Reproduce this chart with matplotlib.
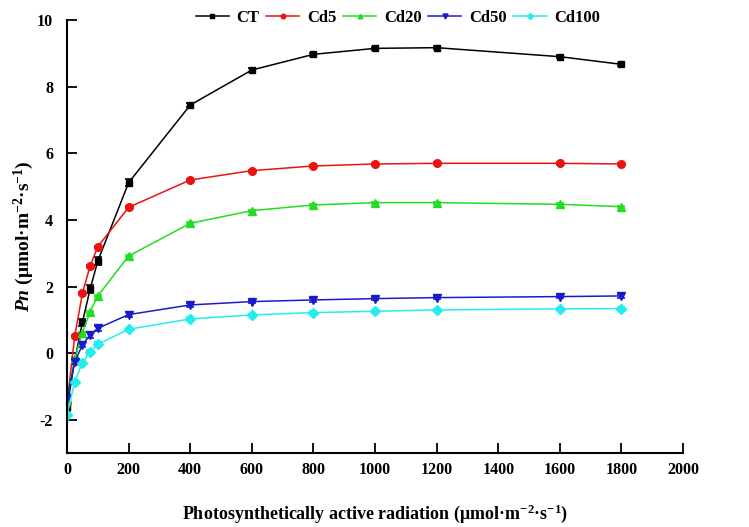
import matplotlib.pyplot as plt

plt.rcParams['font.family'] = 'Liberation Serif'
plt.rcParams['font.weight'] = 'bold'
plt.rcParams['axes.unicode_minus'] = False
plt.rcParams['mathtext.fontset'] = 'custom'
plt.rcParams['mathtext.rm'] = 'Liberation Serif:bold'
plt.rcParams['mathtext.it'] = 'Liberation Serif:italic:bold'
plt.rcParams['mathtext.bf'] = 'Liberation Serif:bold'

par = [0, 25, 50, 75, 100, 200, 400, 600, 800, 1000, 1200, 1600, 1800]

ct = [-1.62, -0.22, 0.93, 1.93, 2.77, 5.12, 7.45, 8.5, 8.97, 9.15, 9.17, 8.9, 8.67]
cd5 = [-1.5, 0.52, 1.8, 2.62, 3.2, 4.38, 5.2, 5.48, 5.62, 5.68, 5.7, 5.7, 5.68]
cd20 = [-1.4, -0.15, 0.62, 1.25, 1.72, 2.92, 3.9, 4.28, 4.45, 4.52, 4.52, 4.47, 4.4]
cd50 = [-1.35, -0.25, 0.25, 0.55, 0.75, 1.16, 1.45, 1.55, 1.6, 1.64, 1.67, 1.7, 1.72]
cd100 = [-1.85, -0.85, -0.28, 0.03, 0.27, 0.72, 1.03, 1.15, 1.22, 1.26, 1.3, 1.33, 1.34]

ct_err = [0.1, 0.08, 0.1, 0.12, 0.12, 0.1, 0.07, 0.06, 0.05, 0.05, 0.05, 0.05, 0.05]
cd5_err = [0.05, 0.03, 0.03, 0.03, 0.03, 0.03, 0.03, 0.03, 0.03, 0.03, 0.03, 0.03, 0.03]
cd20_err = [0.05, 0.03, 0.03, 0.03, 0.03, 0.03, 0.03, 0.03, 0.03, 0.03, 0.03, 0.03, 0.03]
cd50_err = [0.08, 0.06, 0.07, 0.08, 0.07, 0.07, 0.06, 0.05, 0.05, 0.05, 0.05, 0.05, 0.05]
cd100_err = [0.08, 0.06, 0.07, 0.07, 0.06, 0.05, 0.05, 0.04, 0.04, 0.04, 0.04, 0.04, 0.04]

names = ['CT', 'Cd5', 'Cd20', 'Cd50', 'Cd100']
series = [ct, cd5, cd20, cd50, cd100]
errs = [ct_err, cd5_err, cd20_err, cd50_err, cd100_err]
colors = ['black', '#ee1111', '#22dd22', '#1a1acc', '#22eeee']
markers = ['s', 'o', '^', 'v', 'D']
msizes = [5, 5.5, 5.5, 6, 5]

fig = plt.figure(figsize=(7.49, 5.27), dpi=100)
ax = fig.add_axes([0.0895, 0.140, 0.8225, 0.822])

for name, y, e, c, m, ms in zip(names, series, errs, colors, markers, msizes):
    ax.errorbar(par, y, yerr=e, color=c, marker=m, markersize=ms, lw=1.1,
                capsize=3, elinewidth=1.2, capthick=1.2, label=name)

ax.set_xlim(0, 2000)
ax.set_ylim(-3, 10)
ax.set_xticks(range(0, 2001, 200))
ax.set_yticks(range(-2, 11, 2))
ax.spines['top'].set_visible(False)
ax.spines['right'].set_visible(False)
ax.spines['left'].set_linewidth(1.5)
ax.spines['bottom'].set_linewidth(1.5)
ax.tick_params(axis='x', direction='in', length=7, width=1.3, labelsize=11.5, pad=6)
ax.tick_params(axis='y', direction='in', length=7, width=1.3, labelsize=11.5, pad=10)
for lab in ax.get_xticklabels() + ax.get_yticklabels():
    lab.set_fontweight('bold')

ax.set_xlabel(r'Photosynthetically active radiation (μmol·m$^{-2}$·s$^{-1}$)',
              fontsize=13, fontweight='bold', labelpad=18)
ax.set_ylabel(r'$\it{Pn}$ (μmol·m$^{-2}$·s$^{-1}$)', fontsize=14,
              fontweight='bold', labelpad=1)

handles, labels = ax.get_legend_handles_labels()
handles = [h[0] for h in handles]
fig.legend(handles, labels, ncol=5, loc='upper center', bbox_to_anchor=(0.531, 1.01),
           frameon=False, fontsize=12, handlelength=2.0, columnspacing=0.4,
           handletextpad=0.45, markerscale=0.6)

fig.savefig('out.png', dpi=100)
